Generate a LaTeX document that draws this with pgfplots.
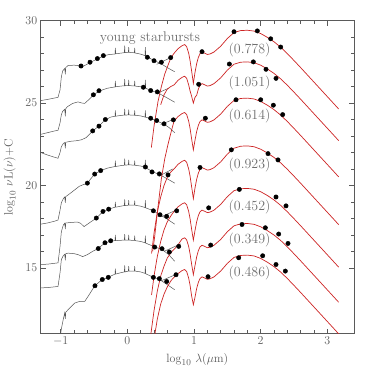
\documentclass[border=0pt]{standalone}
\usepackage{pgfplots}
\pgfplotsset{compat=1.18}
\definecolor{sedgray}{RGB}{85,85,85}
\definecolor{sedred}{RGB}{205,35,35}
\definecolor{txtgray}{RGB}{110,110,110}
\definecolor{tickgray}{RGB}{90,90,90}
\begin{document}
\begin{tikzpicture}
\useasboundingbox (-40.7pt,-40.3pt) rectangle (333.3pt,333.7pt);
\begin{axis}[at={(0,0)}, anchor=south west, scale only axis,
  width=313.3pt, height=313pt,
  xmin=-1.3, xmax=3.4, ymin=11, ymax=30,
  xtick={-1,0,1,2,3}, ytick={15,20,25,30},
  minor x tick num=4, minor y tick num=4,
  tick align=inside, xtick pos=both, ytick pos=both,
  major tick length=5pt, minor tick length=3.5pt,
  axis line style={tickgray, line width=0.5pt},
  tick style={tickgray, line width=0.5pt},
  ticklabel style={font=\fontsize{13}{13}\selectfont, text=tickgray},
  xlabel={$\log_{10}\,\lambda(\mu{\rm m})$},
  ylabel={$\log_{10}\,\nu{\rm L}(\nu){+}{\rm C}$},
  xlabel style={at={(axis description cs:0.5,-0.083)}, anchor=center, font=\fontsize{13}{13}\selectfont, text=tickgray},
  ylabel style={at={(axis description cs:-0.099,0.5)}, anchor=center, font=\fontsize{13}{13}\selectfont, text=tickgray},
]
% ---------- gray stellar spectra ----------
\pgfplotsset{spec/.style={sedgray, line width=0.5pt, mark=none}}
\addplot[spec] coordinates {(-1.30,25.15) (-1.20,25.22) (-1.10,25.30) (-1.04,25.35) (-1.01,25.8) (-0.99,26.6) (-0.97,26.95) (-0.94,27.1) (-0.93,26.75) (-0.925,27.15) (-0.89,27.28) (-0.80,27.3) (-0.74,27.28) (-0.69,27.18) (-0.63,27.3) (-0.56,27.46) (-0.45,27.68) (-0.36,27.86) (-0.28,27.94) (-0.185,27.98) (-0.18,28.35) (-0.175,27.99) (-0.1,28.03) (-0.045,28.06) (-0.04,28.48) (-0.035,28.06) (0.015,28.08) (0.02,28.4) (0.025,28.08) (0.105,28.05) (0.11,28.35) (0.115,28.04) (0.2,27.97) (0.265,27.88) (0.27,28.4) (0.275,27.86) (0.30,27.8) (0.40,27.58) (0.50,27.4) (0.60,27.15) (0.71,26.9)};
\addplot[spec] coordinates {(0.44,27.35) (0.67,27.8)};
\addplot[spec] coordinates {(-1.30,23.1) (-1.20,23.2) (-1.10,23.3) (-1.04,23.35) (-1.01,23.8) (-0.99,24.3) (-0.97,24.5) (-0.94,24.62) (-0.93,24.2) (-0.925,24.65) (-0.90,24.78) (-0.82,24.98) (-0.74,25.07) (-0.68,25.0) (-0.64,24.98) (-0.58,25.2) (-0.51,25.48) (-0.43,25.72) (-0.3,25.9) (-0.185,25.98) (-0.18,26.35) (-0.175,25.99) (-0.1,26.03) (-0.045,26.05) (-0.04,26.45) (-0.035,26.05) (0.015,26.06) (0.02,26.4) (0.025,26.06) (0.105,26.04) (0.11,26.35) (0.115,26.03) (0.2,25.99) (0.265,25.92) (0.27,26.4) (0.275,25.9) (0.35,25.77) (0.45,25.63) (0.55,25.42) (0.71,25.05)};
\addplot[spec] coordinates {(0.42,25.55) (0.62,25.9)};
\addplot[spec] coordinates {(-1.30,22.0) (-1.20,21.85) (-1.10,21.72) (-1.04,21.65) (-1.01,22.0) (-0.99,22.35) (-0.96,22.55) (-0.94,22.6) (-0.93,22.25) (-0.925,22.62) (-0.85,22.68) (-0.75,22.72) (-0.69,22.77) (-0.62,22.9) (-0.52,23.3) (-0.43,23.6) (-0.33,23.98) (-0.25,24.15) (-0.185,24.2) (-0.18,24.55) (-0.175,24.2) (-0.1,24.25) (-0.045,24.27) (-0.04,24.65) (-0.035,24.27) (0.015,24.28) (0.02,24.6) (0.025,24.28) (0.105,24.26) (0.11,24.55) (0.115,24.26) (0.2,24.22) (0.265,24.15) (0.27,24.55) (0.275,24.14) (0.35,24.06) (0.44,23.92) (0.55,23.72) (0.63,23.5) (0.71,23.2)};
\addplot[spec] coordinates {(0.50,23.7) (0.72,24.05)};
\addplot[spec] coordinates {(-1.30,17.65) (-1.20,17.72) (-1.10,17.82) (-1.04,17.9) (-1.01,18.5) (-0.99,18.95) (-0.96,19.2) (-0.94,19.3) (-0.93,18.95) (-0.925,19.32) (-0.88,19.45) (-0.80,19.7) (-0.72,19.95) (-0.66,20.05) (-0.6,20.12) (-0.55,20.4) (-0.49,20.68) (-0.40,20.9) (-0.3,21.05) (-0.185,21.15) (-0.18,21.5) (-0.175,21.15) (-0.1,21.2) (-0.045,21.23) (-0.04,21.62) (-0.035,21.23) (0.015,21.25) (0.02,21.55) (0.025,21.25) (0.105,21.23) (0.11,21.5) (0.115,21.22) (0.2,21.18) (0.265,21.1) (0.27,21.55) (0.275,21.08) (0.37,20.85) (0.48,20.66) (0.60,20.4) (0.71,20.14)};
\addplot[spec] coordinates {(0.47,20.55) (0.68,21.0)};
\addplot[spec] coordinates {(-1.30,15.2) (-1.20,15.22) (-1.10,15.27) (-1.04,15.3) (-1.01,16.3) (-0.99,17.2) (-0.96,17.6) (-0.94,17.7) (-0.93,17.35) (-0.925,17.72) (-0.85,17.75) (-0.75,17.78) (-0.70,17.7) (-0.65,17.5) (-0.58,17.7) (-0.47,18.0) (-0.37,18.4) (-0.28,18.56) (-0.185,18.68) (-0.18,19.0) (-0.175,18.68) (-0.1,18.74) (-0.045,18.78) (-0.04,19.15) (-0.035,18.78) (0.015,18.8) (0.02,19.1) (0.025,18.8) (0.105,18.8) (0.11,19.08) (0.115,18.8) (0.2,18.74) (0.265,18.66) (0.27,19.1) (0.275,18.64) (0.38,18.48) (0.49,18.22) (0.60,17.95) (0.71,17.65)};
\addplot[spec] coordinates {(0.52,18.12) (0.76,18.55)};
\addplot[spec] coordinates {(-1.30,13.78) (-1.20,13.8) (-1.10,13.84) (-1.04,13.87) (-1.01,14.7) (-0.99,15.5) (-0.96,15.75) (-0.94,15.82) (-0.93,15.45) (-0.925,15.85) (-0.89,15.89) (-0.80,15.86) (-0.74,15.8) (-0.67,15.68) (-0.6,15.8) (-0.52,16.0) (-0.44,16.17) (-0.34,16.5) (-0.25,16.62) (-0.185,16.65) (-0.18,17.0) (-0.175,16.65) (-0.1,16.67) (-0.045,16.68) (-0.04,17.05) (-0.035,16.68) (0.015,16.68) (0.02,17.0) (0.025,16.68) (0.105,16.66) (0.11,16.95) (0.115,16.65) (0.2,16.6) (0.265,16.52) (0.27,16.95) (0.275,16.5) (0.41,16.27) (0.52,16.12) (0.62,15.8) (0.71,15.4)};
\addplot[spec] coordinates {(0.55,16.0) (0.80,16.45)};
\addplot[spec] coordinates {(-1.01,10.7) (-0.99,11.3) (-0.96,11.9) (-0.94,12.26) (-0.93,11.9) (-0.925,12.3) (-0.865,12.56) (-0.79,12.86) (-0.715,12.96) (-0.64,12.96) (-0.59,13.26) (-0.49,13.9) (-0.38,14.28) (-0.29,14.42) (-0.185,14.62) (-0.18,14.95) (-0.175,14.62) (-0.1,14.7) (-0.045,14.75) (-0.04,15.15) (-0.035,14.75) (0.015,14.8) (0.02,15.1) (0.025,14.8) (0.105,14.8) (0.11,15.1) (0.115,14.8) (0.2,14.75) (0.265,14.66) (0.27,15.1) (0.275,14.64) (0.39,14.42) (0.48,14.3) (0.59,14.0) (0.71,13.67)};
\addplot[spec] coordinates {(0.50,14.2) (0.76,14.65)};
% ---------- red dust models ----------
\pgfplotsset{dust/.style={sedred, line width=0.7pt, mark=none}}
\addplot[dust] coordinates {(0.36,22.3) (0.40,23.6) (0.46,25.1) (0.51,26.0) (0.56,26.75) (0.61,27.3) (0.65,27.72) (0.70,28.02) (0.76,28.30) (0.82,28.48) (0.86,28.55) (0.89,28.42) (0.92,28.02) (0.94,27.60) (0.965,26.92) (0.99,26.20) (1.015,26.87) (1.04,27.40) (1.065,27.77) (1.09,28.00) (1.12,28.10) (1.16,28.03) (1.20,27.95) (1.24,27.98) (1.30,28.10) (1.40,28.45) (1.50,28.92) (1.60,29.28) (1.70,29.40) (1.80,29.42) (1.90,29.37) (2.00,29.22) (2.10,28.99) (2.20,28.72) (2.30,28.39) (2.40,28.00) (2.50,27.58) (2.60,27.15) (2.70,26.71) (2.80,26.27) (2.90,25.83) (3.00,25.39) (3.10,24.95) (3.17,24.64)};
\addplot[dust] coordinates {(0.50,24.9) (0.55,25.5) (0.60,25.85) (0.65,26.0) (0.70,26.10) (0.76,26.38) (0.82,26.56) (0.86,26.63) (0.89,26.50) (0.92,26.10) (0.94,25.75) (0.965,25.40) (0.99,25.00) (1.015,25.35) (1.04,25.48) (1.065,25.85) (1.09,26.08) (1.12,26.18) (1.16,26.11) (1.20,26.03) (1.24,26.06) (1.30,26.18) (1.40,26.53) (1.50,27.00) (1.60,27.36) (1.70,27.48) (1.80,27.50) (1.90,27.45) (2.00,27.30) (2.10,27.07) (2.20,26.80) (2.30,26.47) (2.40,26.08) (2.50,25.66) (2.60,25.23) (2.70,24.79) (2.80,24.35) (2.90,23.91) (3.00,23.47) (3.10,23.03) (3.17,22.72)};
\addplot[dust] coordinates {(0.38,16.0) (0.41,16.9) (0.46,18.7) (0.51,20.4) (0.56,21.6) (0.61,22.5) (0.66,23.3) (0.70,23.90) (0.76,24.18) (0.82,24.36) (0.86,24.43) (0.89,24.30) (0.92,23.90) (0.94,23.48) (0.965,22.80) (0.99,22.16) (1.015,22.75) (1.04,23.28) (1.065,23.65) (1.09,23.88) (1.12,23.98) (1.16,23.91) (1.20,23.83) (1.24,23.86) (1.30,23.98) (1.40,24.33) (1.50,24.80) (1.60,25.16) (1.70,25.28) (1.80,25.30) (1.90,25.25) (2.00,25.10) (2.10,24.87) (2.20,24.60) (2.30,24.27) (2.40,23.88) (2.50,23.46) (2.60,23.03) (2.70,22.59) (2.80,22.15) (2.90,21.71) (3.00,21.27) (3.10,20.83) (3.17,20.52)};
\addplot[dust] coordinates {(0.363,15.87) (0.40,17.1) (0.45,18.4) (0.50,19.3) (0.55,20.0) (0.61,20.6) (0.66,20.85) (0.70,21.00) (0.76,21.28) (0.82,21.46) (0.86,21.53) (0.89,21.40) (0.92,21.00) (0.94,20.58) (0.965,19.90) (0.99,19.20) (1.015,19.85) (1.04,20.38) (1.065,20.75) (1.09,20.98) (1.12,21.08) (1.16,21.01) (1.20,20.93) (1.24,20.96) (1.30,21.08) (1.40,21.43) (1.50,21.90) (1.60,22.26) (1.70,22.38) (1.80,22.40) (1.90,22.35) (2.00,22.20) (2.10,21.97) (2.20,21.70) (2.30,21.37) (2.40,20.98) (2.50,20.56) (2.60,20.13) (2.70,19.69) (2.80,19.25) (2.90,18.81) (3.00,18.37) (3.10,17.93) (3.17,17.62)};
\addplot[dust] coordinates {(0.363,13.35) (0.40,14.5) (0.45,15.7) (0.50,16.6) (0.55,17.3) (0.60,17.8) (0.66,18.2) (0.70,18.42) (0.76,18.70) (0.82,18.88) (0.86,18.95) (0.89,18.82) (0.92,18.42) (0.94,18.00) (0.965,17.32) (0.99,16.68) (1.015,17.27) (1.04,17.80) (1.065,18.17) (1.09,18.40) (1.12,18.50) (1.16,18.43) (1.20,18.35) (1.24,18.38) (1.30,18.50) (1.40,18.85) (1.50,19.32) (1.60,19.68) (1.70,19.80) (1.80,19.82) (1.90,19.77) (2.00,19.62) (2.10,19.39) (2.20,19.12) (2.30,18.79) (2.40,18.40) (2.50,17.98) (2.60,17.55) (2.70,17.11) (2.80,16.67) (2.90,16.23) (3.00,15.79) (3.10,15.35) (3.17,15.04)};
\addplot[dust] coordinates {(0.35,10.9) (0.40,12.4) (0.45,13.6) (0.50,14.5) (0.55,15.1) (0.60,15.6) (0.66,15.95) (0.72,16.2) (0.77,16.45) (0.82,16.75) (0.86,16.82) (0.89,16.69) (0.92,16.29) (0.94,15.87) (0.965,15.19) (0.99,14.58) (1.015,15.14) (1.04,15.67) (1.065,16.04) (1.09,16.27) (1.12,16.37) (1.16,16.30) (1.20,16.22) (1.24,16.25) (1.30,16.37) (1.40,16.72) (1.50,17.19) (1.60,17.55) (1.70,17.67) (1.80,17.69) (1.90,17.64) (2.00,17.49) (2.10,17.26) (2.20,16.99) (2.30,16.66) (2.40,16.27) (2.50,15.85) (2.60,15.42) (2.70,14.98) (2.80,14.54) (2.90,14.10) (3.00,13.66) (3.10,13.22) (3.17,12.91)};
\addplot[dust] coordinates {(0.41,10.9) (0.45,11.9) (0.50,12.8) (0.55,13.4) (0.60,13.85) (0.66,14.25) (0.72,14.5) (0.76,14.65) (0.82,14.83) (0.86,14.90) (0.89,14.77) (0.92,14.37) (0.94,13.95) (0.965,13.27) (0.99,12.76) (1.015,13.22) (1.04,13.75) (1.065,14.12) (1.09,14.35) (1.12,14.45) (1.16,14.38) (1.20,14.30) (1.24,14.33) (1.30,14.45) (1.40,14.80) (1.50,15.27) (1.60,15.63) (1.70,15.75) (1.80,15.77) (1.90,15.72) (2.00,15.57) (2.10,15.34) (2.20,15.07) (2.30,14.74) (2.40,14.35) (2.50,13.93) (2.60,13.50) (2.70,13.06) (2.80,12.62) (2.90,12.18) (3.00,11.74) (3.10,11.30) (3.17,10.99)};
% ---------- data points ----------
\pgfplotsset{dots/.style={only marks, mark=*, mark size=2.2pt, black}}
\addplot[dots] coordinates {(-0.695,27.25) (-0.56,27.48) (-0.45,27.7) (-0.36,27.88) (0.30,27.78) (0.40,27.57) (0.51,27.48) (0.65,27.76) (1.12,28.12) (1.60,29.33) (1.95,29.38) (2.15,28.9) (2.30,28.4)};
\addplot[dots] coordinates {(-0.51,25.5) (-0.426,25.75) (0.24,25.96) (0.35,25.76) (0.45,25.68) (1.07,26.14) (1.53,27.37) (1.89,27.5) (2.08,27.05) (2.23,26.5)};
\addplot[dots] coordinates {(-0.52,23.31) (-0.426,23.6) (-0.33,24.0) (0.35,24.08) (0.44,23.94) (0.55,23.74) (0.69,23.98) (1.17,24.08) (1.63,25.2) (2.0,25.2) (2.19,24.87) (2.33,24.3)};
\addplot[dots] coordinates {(-0.6,20.14) (-0.49,20.69) (-0.4,20.9) (0.27,21.12) (0.37,20.82) (0.48,20.7) (0.61,20.64) (1.09,21.09) (1.56,22.16) (2.11,21.93) (2.26,21.55)};
\addplot[dots] coordinates {(-0.466,18.02) (-0.366,18.42) (-0.28,18.56) (0.39,18.46) (0.49,18.22) (0.59,18.12) (0.74,18.46) (1.22,18.64) (1.68,19.76) (2.23,19.3) (2.38,18.76)};
\addplot[dots] coordinates {(-0.436,16.17) (-0.336,16.52) (-0.25,16.64) (0.41,16.26) (0.52,16.16) (0.63,15.96) (0.77,16.3) (1.25,16.38) (1.72,17.63) (2.07,17.43) (2.27,17.05) (2.41,16.48)};
\addplot[dots] coordinates {(-0.486,13.91) (-0.376,14.29) (-0.286,14.42) (0.39,14.42) (0.48,14.34) (0.59,14.17) (0.73,14.58) (1.21,14.46) (1.67,15.61) (2.03,15.73) (2.23,15.2) (2.37,14.8)};
% ---------- texts ----------
\begin{scope}[every node/.style={text=txtgray, font=\fontsize{14}{14}\selectfont}]
\node at (axis cs:0.339,28.93) {young starbursts};
\node at (axis cs:1.833,28.2) {(0.778)};
\node at (axis cs:1.833,26.24) {(1.051)};
\node at (axis cs:1.833,24.22) {(0.614)};
\node at (axis cs:1.833,21.25) {(0.923)};
\node at (axis cs:1.833,18.7) {(0.452)};
\node at (axis cs:1.833,16.68) {(0.349)};
\node at (axis cs:1.833,14.7) {(0.486)};
\end{scope}
\end{axis}
\end{tikzpicture}
\end{document}
